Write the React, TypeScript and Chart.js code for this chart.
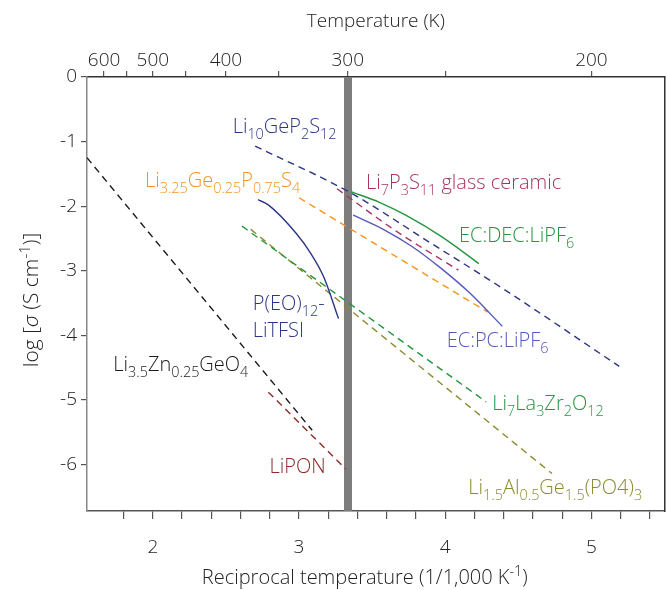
import React, { useEffect, useRef } from 'react';
import { Chart, registerables } from 'chart.js';
Chart.register(...registerables);

const FAMILY = "'Open Sans', 'Noto Sans', sans-serif";
const WEIGHT = '300';

// Axis ranges
const X_MIN = 1.55;
const X_MAX = 5.5;
const Y_MIN = -6.72;
const Y_MAX = 0;

// Ticks
const xTickValues = [1.8, 2, 2.2, 2.4, 2.6, 2.8, 3, 3.2, 3.4, 3.6, 3.8, 4, 4.2, 4.4, 4.6, 4.8, 5, 5.2, 5.4];
const xTickLabeled = [2, 3, 4, 5];
const yTickValues = [0, -1, -2, -3, -4, -5, -6];
const tempTicksK = [600, 550, 500, 450, 400, 350, 300, 250, 200];
const tempLabelsK = [600, 500, 400, 300, 200];

// Room temperature marker (1000/T)
const roomTempX = 3.335;

// Series
const li10X = [2.70, 3.35, 3.90, 4.39, 5.19];
const li10Y = [-1.07, -1.79, -2.57, -3.27, -4.48];
const li7psX = [3.26, 3.66, 4.09];
const li7psY = [-1.73, -2.38, -2.99];
const ecdecX = [3.36, 3.55, 3.73, 3.98, 4.23];
const ecdecY = [-1.78, -1.94, -2.14, -2.48, -2.89];
const ecpcX = [3.37, 3.57, 3.77, 3.97, 4.17, 4.39];
const ecpcY = [-2.14, -2.35, -2.62, -2.96, -3.35, -3.86];
const lgpsX = [3.0, 4.29];
const lgpsY = [-1.87, -3.64];
const peoX = [2.72, 2.79, 2.98, 3.08, 3.17, 3.27];
const peoY = [-1.9, -1.98, -2.42, -2.73, -3.1, -3.74];
const llzoX = [2.61, 4.28];
const llzoY = [-2.31, -5.03];
const lagpX = [2.67, 4.73];
const lagpY = [-2.36, -6.14];
const lzgoX = [1.55, 3.09];
const lzgoY = [-1.25, -5.47];
const liponX = [2.79, 3.32];
const liponY = [-4.88, -6.07];

// Colours
const NAVY = '#2d3682';
const MAGENTA = '#a8335f';
const GREEN = '#23963f';
const PURPLE = '#5558b6';
const ORANGE = '#f6921e';
const OLIVE = '#8c8b2d';
const BLACK = '#1a1a1a';
const DARKRED = '#8e2a2a';

// Annotation labels
const labelTexts = [
  'Li_{10}GeP_{2}S_{12}',
  'Li_{3.25}Ge_{0.25}P_{0.75}S_{4}',
  'Li_{7}P_{3}S_{11} glass ceramic',
  'EC:DEC:LiPF_{6}',
  'EC:PC:LiPF_{6}',
  'P(EO)_{12}-',
  'LiTFSI',
  'Li_{7}La_{3}Zr_{2}O_{12}',
  'Li_{1.5}Al_{0.5}Ge_{1.5}(PO4)_{3}',
  'Li_{3.5}Zn_{0.25}GeO_{4}',
  'LiPON',
];
const labelX = [2.546, 1.946, 3.458, 4.094, 4.01, 2.684, 2.684, 4.322, 4.158, 1.73, 2.798];
const labelY = [-0.868, -1.71, -1.736, -2.553, -4.181, -3.612, -4.026, -5.163, -6.455, -4.553, -6.135];
const labelColors = [NAVY, ORANGE, MAGENTA, GREEN, PURPLE, NAVY, NAVY, GREEN, OLIVE, BLACK, DARKRED];

const xTitle = 'Reciprocal temperature (1/1,000 K^{-1})';
const yTitle = 'log [*σ* (S cm^{-1})]';
const topTitle = 'Temperature (K)';

type Seg = { t: string; k: 'n' | 'sub' | 'sup' | 'it' };
function parseRich(s: string): Seg[] {
  const out: Seg[] = [];
  const re = /_\{([^}]*)\}|\^\{([^}]*)\}|\*([^*]*)\*/g;
  let last = 0;
  let m: RegExpExecArray | null;
  while ((m = re.exec(s))) {
    if (m.index > last) out.push({ t: s.slice(last, m.index), k: 'n' });
    if (m[1] !== undefined) out.push({ t: m[1], k: 'sub' });
    else if (m[2] !== undefined) out.push({ t: m[2], k: 'sup' });
    else out.push({ t: m[3], k: 'it' });
    last = re.lastIndex;
  }
  if (last < s.length) out.push({ t: s.slice(last), k: 'n' });
  return out;
}

function drawRich(ctx: CanvasRenderingContext2D, s: string, x: number, y: number, size: number, color: string, align: 'left' | 'center') {
  const segs = parseRich(s);
  const fontFor = (k: string) =>
    k === 'sub' || k === 'sup'
      ? `${WEIGHT} ${size * 0.72}px ${FAMILY}`
      : k === 'it'
      ? `italic ${WEIGHT} ${size}px ${FAMILY}`
      : `${WEIGHT} ${size}px ${FAMILY}`;
  let w = 0;
  for (const sg of segs) {
    ctx.font = fontFor(sg.k);
    w += ctx.measureText(sg.t).width;
  }
  let cx = align === 'center' ? x - w / 2 : x;
  ctx.fillStyle = color;
  ctx.textAlign = 'left';
  ctx.textBaseline = 'alphabetic';
  for (const sg of segs) {
    ctx.font = fontFor(sg.k);
    const dy = sg.k === 'sub' ? size * 0.3 : sg.k === 'sup' ? -size * 0.4 : 0;
    ctx.fillText(sg.t, cx, y + dy);
    cx += ctx.measureText(sg.t).width;
  }
}

const textPlugin = {
  id: 'richText',
  afterDatasetsDraw(chart: any) {
    const ctx: CanvasRenderingContext2D = chart.ctx;
    const xs = chart.scales.x;
    const ys = chart.scales.y;
    const area = chart.chartArea;
    ctx.save();
    for (let i = 0; i < labelTexts.length; i++) {
      drawRich(ctx, labelTexts[i], xs.getPixelForValue(labelX[i]), ys.getPixelForValue(labelY[i]), 20, labelColors[i], 'left');
    }
    // axis titles
    drawRich(ctx, topTitle, (area.left + area.right) / 2, area.top - 50, 19, '#222', 'center');
    drawRich(ctx, xTitle, (area.left + area.right) / 2 - 11, area.bottom + 73, 20, '#222', 'center');
    ctx.translate(38, (area.top + area.bottom) / 2 + 6);
    ctx.rotate(-Math.PI / 2);
    drawRich(ctx, yTitle, 0, 0, 21, '#222', 'center');
    ctx.restore();
  },
};

function line(xs: number[], ys: number[], color: string, dashed: boolean, smooth: boolean) {
  return {
    data: xs.map((x, i) => ({ x, y: ys[i] })),
    borderColor: color,
    backgroundColor: color,
    borderWidth: 1.4,
    borderDash: dashed ? [7, 5] : [],
    showLine: true,
    pointRadius: 0,
    fill: false,
    cubicInterpolationMode: smooth ? ('monotone' as const) : ('default' as const),
    tension: 0,
    order: 0,
  };
}

export default function App() {
  const ref = useRef<HTMLCanvasElement | null>(null);
  useEffect(() => {
    document.body.style.margin = '0';
    if (!ref.current) return;
    const axisColor = '#555';
    const tickFont = { family: FAMILY, size: 19, weight: WEIGHT };
    const chart = new Chart(ref.current, {
      type: 'scatter',
      data: {
        datasets: [
          line(li10X, li10Y, NAVY, true, true),
          line(li7psX, li7psY, MAGENTA, true, true),
          line(ecdecX, ecdecY, GREEN, false, true),
          line(ecpcX, ecpcY, PURPLE, false, true),
          line(lgpsX, lgpsY, ORANGE, true, false),
          line(peoX, peoY, NAVY, false, true),
          line(llzoX, llzoY, GREEN, true, false),
          line(lagpX, lagpY, OLIVE, true, false),
          line(lzgoX, lzgoY, BLACK, true, false),
          line(liponX, liponY, DARKRED, true, false),
          {
            data: [
              { x: roomTempX, y: Y_MAX },
              { x: roomTempX, y: Y_MIN },
            ],
            borderColor: '#7d7d7d',
            borderWidth: 8,
            borderCapStyle: 'butt',
            showLine: true,
            pointRadius: 0,
            order: 10,
          } as any,
        ],
      },
      options: {
        animation: false,
        responsive: false,
        layout: { padding: 0 },
        plugins: { legend: { display: false }, tooltip: { enabled: false } },
        scales: {
          x: {
            type: 'linear',
            position: 'bottom',
            min: X_MIN,
            max: X_MAX,
            afterBuildTicks: (s: any) => {
              s.ticks = xTickValues.map((v) => ({ value: v }));
            },
            afterFit: (s: any) => {
              s.height = 79;
            },
            ticks: {
              autoSkip: false,
              maxRotation: 0,
              padding: 17,
              color: '#222',
              font: tickFont,
              callback: (v: any) => {
                const r = Math.round(Number(v) * 10) / 10;
                return xTickLabeled.includes(r) ? String(r) : '';
              },
            },
            grid: { drawOnChartArea: false, tickLength: 8, color: axisColor, tickColor: axisColor, lineWidth: 1.2 },
            border: { display: true, color: axisColor, width: 1.5 },
          },
          xTop: {
            type: 'linear',
            position: 'top',
            min: X_MIN,
            max: X_MAX,
            afterBuildTicks: (s: any) => {
              s.ticks = tempTicksK.map((T) => ({ value: 1000 / T }));
            },
            afterFit: (s: any) => {
              s.height = 77;
            },
            ticks: {
              autoSkip: false,
              maxRotation: 0,
              padding: -1,
              color: '#222',
              font: tickFont,
              callback: (v: any) => {
                const T = Math.round(1000 / Number(v));
                return tempLabelsK.includes(T) ? String(T) : '';
              },
            },
            grid: { drawOnChartArea: false, tickLength: 6, color: axisColor, tickColor: axisColor, lineWidth: 1.2 },
            border: { display: true, color: '#333', width: 1.5 },
          },
          y: {
            type: 'linear',
            position: 'left',
            min: Y_MIN,
            max: Y_MAX,
            afterBuildTicks: (s: any) => {
              s.ticks = yTickValues.map((v) => ({ value: v }));
            },
            afterFit: (s: any) => {
              s.width = 87;
            },
            ticks: {
              autoSkip: false,
              padding: 4,
              color: '#222',
              font: tickFont,
              callback: (v: any) => String(Math.round(Number(v))),
            },
            grid: { drawOnChartArea: false, tickLength: 6, color: axisColor, tickColor: axisColor, lineWidth: 1.2 },
            border: { display: true, color: '#888', width: 1.5 },
          },
          yRight: {
            type: 'linear',
            position: 'right',
            min: Y_MIN,
            max: Y_MAX,
            afterFit: (s: any) => {
              s.width = 1;
            },
            ticks: { display: false },
            grid: { display: false, drawOnChartArea: false, drawTicks: false },
            border: { display: true, color: '#333', width: 1.5 },
          },
        },
      } as any,
      plugins: [textPlugin],
    });
    return () => chart.destroy();
  }, []);
  return (
    <div style={{ width: 667, height: 590 }}>
      <canvas ref={ref} width={667} height={590} />
    </div>
  );
}
